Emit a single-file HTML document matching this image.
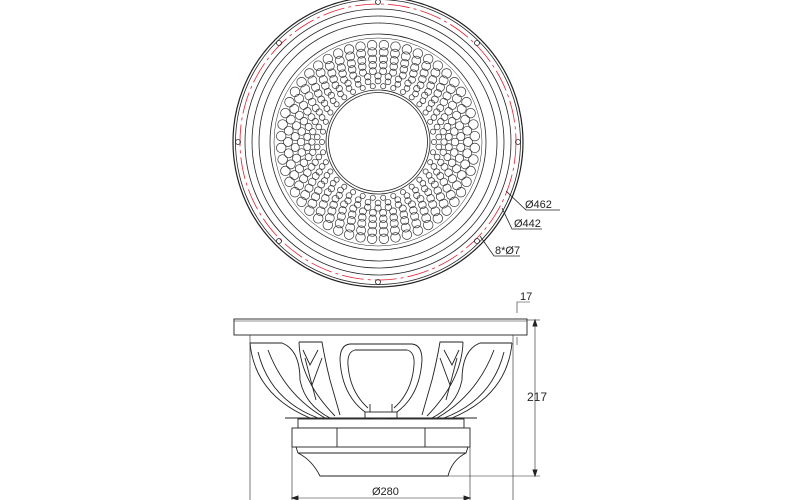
<!DOCTYPE html>
<html><head><meta charset="utf-8"><style>
html,body{margin:0;padding:0;background:#fff;width:800px;height:500px;overflow:hidden}
svg{display:block}
text{font-family:"Liberation Sans",sans-serif;font-size:11px;fill:#222}
</style></head><body>
<svg id="s" width="800" height="500" viewBox="0 0 800 500" xmlns="http://www.w3.org/2000/svg">
<g fill="none" stroke="#222" stroke-width="0.8" id="top">
<circle cx="378" cy="142" r="145" stroke-width="1.2"/>
<circle cx="378" cy="142" r="142.5"/>
<circle cx="378" cy="142" r="138" stroke="#e02030" stroke-dasharray="22 4 3 4"/>
<circle cx="378" cy="142" r="133"/>
<circle cx="378" cy="142" r="126"/>
<circle cx="378" cy="142" r="119"/>
<circle cx="378" cy="142" r="108"/>
<circle cx="378" cy="142" r="104" stroke-width="0.5"/>
<circle cx="378" cy="142" r="52"/>
<circle cx="378" cy="142" r="49.5"/>
</g>
<g fill="none" stroke="#333" stroke-width="0.7" id="holes"></g>
<g fill="none" stroke="#222" stroke-width="0.8">
<polyline points="506,191 526,210 560,210"/>
<polyline points="502,208 512,229 542,229" />
<polyline points="480,236 494,256 520,256"/>
</g>
<text x="525" y="208">Ø462</text>
<text x="514" y="227">Ø442</text>
<text x="495" y="254">8*Ø7</text>

<g fill="none" stroke="#222" stroke-width="0.9">
<rect x="234" y="319" width="293" height="16" fill="#fff"/>
<line x1="234" y1="321" x2="527" y2="321" stroke-width="0.5"/>
<line x1="250" y1="335" x2="250" y2="500" stroke-width="0.6"/>
<line x1="513" y1="335" x2="513" y2="500" stroke-width="0.6"/>
<line x1="292" y1="447" x2="292" y2="500" stroke-width="0.6"/>
<line x1="470" y1="447" x2="470" y2="500" stroke-width="0.6"/>
<line x1="292" y1="498" x2="470" y2="498" stroke-width="0.6"/>
<polygon points="292,498 298,496 298,500" fill="#222"/>
<polygon points="470,498 464,496 464,500" fill="#222"/>
<line x1="527" y1="320" x2="540" y2="320" stroke-width="0.6"/>
<line x1="448" y1="476" x2="540" y2="476" stroke-width="0.6"/>
<line x1="535" y1="320" x2="535" y2="476" stroke-width="0.6"/>
<polygon points="535,320 533,326 537,326" fill="#222"/>
<polygon points="535,476 533,470 537,470" fill="#222"/>
<polyline points="517,313 517,302 530,302" stroke-width="0.6"/>
<line x1="517" y1="337" x2="517" y2="345" stroke-width="0.6"/>
<g id="half">
<path d="M250,343 L282,343 Q300,350 300,380 Q305,405 330,418"/>
<path d="M250,343 Q255,395 310,418"/>
<path d="M258,352 Q270,400 318,418"/>
<path d="M268,350 Q285,395 325,418"/>
<path d="M299,342 L322,342 Q325,360 330,380 L340,415"/>
<path d="M299,342 Q300,380 335,416"/>
<path d="M303,350 L310,365 L318,350"/>
<path d="M305,358 L312,385 L322,358"/>
<path d="M312,385 L316,400"/>
<path d="M350,344 Q340,345 340,360 Q342,395 365,412"/>
<path d="M355,350 Q347,352 348,365 Q350,392 368,408"/>
<line x1="350" y1="344" x2="381" y2="344"/>
<line x1="355" y1="350" x2="381" y2="350"/>
</g>
<use href="#half" transform="translate(762,0) scale(-1,1)"/>
<rect x="365" y="412" width="32" height="9" fill="#fff"/>
<line x1="370" y1="404" x2="370" y2="412"/><line x1="392" y1="404" x2="392" y2="412"/>
<rect x="368" y="418" width="6" height="8" fill="#444"/><rect x="388" y="418" width="6" height="8" fill="#444"/>
<line x1="285" y1="418" x2="477" y2="418"/>
<rect x="298" y="419" width="166" height="9" fill="#fff"/>
<rect x="292" y="428" width="178" height="19" fill="#fff"/>
<line x1="337" y1="428" x2="337" y2="447"/><line x1="425" y1="428" x2="425" y2="447"/>
<path d="M296,447 L298,453 Q312,460 320,476 L448,476 Q452,460 466,453 L468,447"/>
<line x1="298" y1="453" x2="466" y2="453"/>
</g>
<text x="372" y="495">Ø280</text>
<text x="527" y="401" style="font-size:12px">217</text>
<text x="520" y="300">17</text>
</svg>
<script>
(function(){
var NS="http://www.w3.org/2000/svg";
function c(parent,x,y,r){var e=document.createElementNS(NS,"circle");e.setAttribute("cx",x.toFixed(1));e.setAttribute("cy",y.toFixed(1));e.setAttribute("r",r);parent.appendChild(e);}
var g=document.getElementById('holes'),t=document.getElementById('top'),cx=378,cy=142;
var rings=[[56,34,2.6],[61,38,2.9],[66,40,3.2],[71,44,3.5],[77,46,3.8],[83,48,4.1],[90,50,4.5],[97,52,4.8]];
for(var i=0;i<rings.length;i++){var r=rings[i];for(var k=0;k<r[1];k++){var a=(k+(i%2)*0.5)/r[1]*2*Math.PI;c(g,cx+r[0]*Math.cos(a),cy+r[0]*Math.sin(a),r[2]);}}
for(var k=0;k<8;k++){var a=k/8*2*Math.PI+Math.PI/2;c(t,cx+140*Math.cos(a),cy+140*Math.sin(a),2.5);}
})();
</script>
</body></html>
